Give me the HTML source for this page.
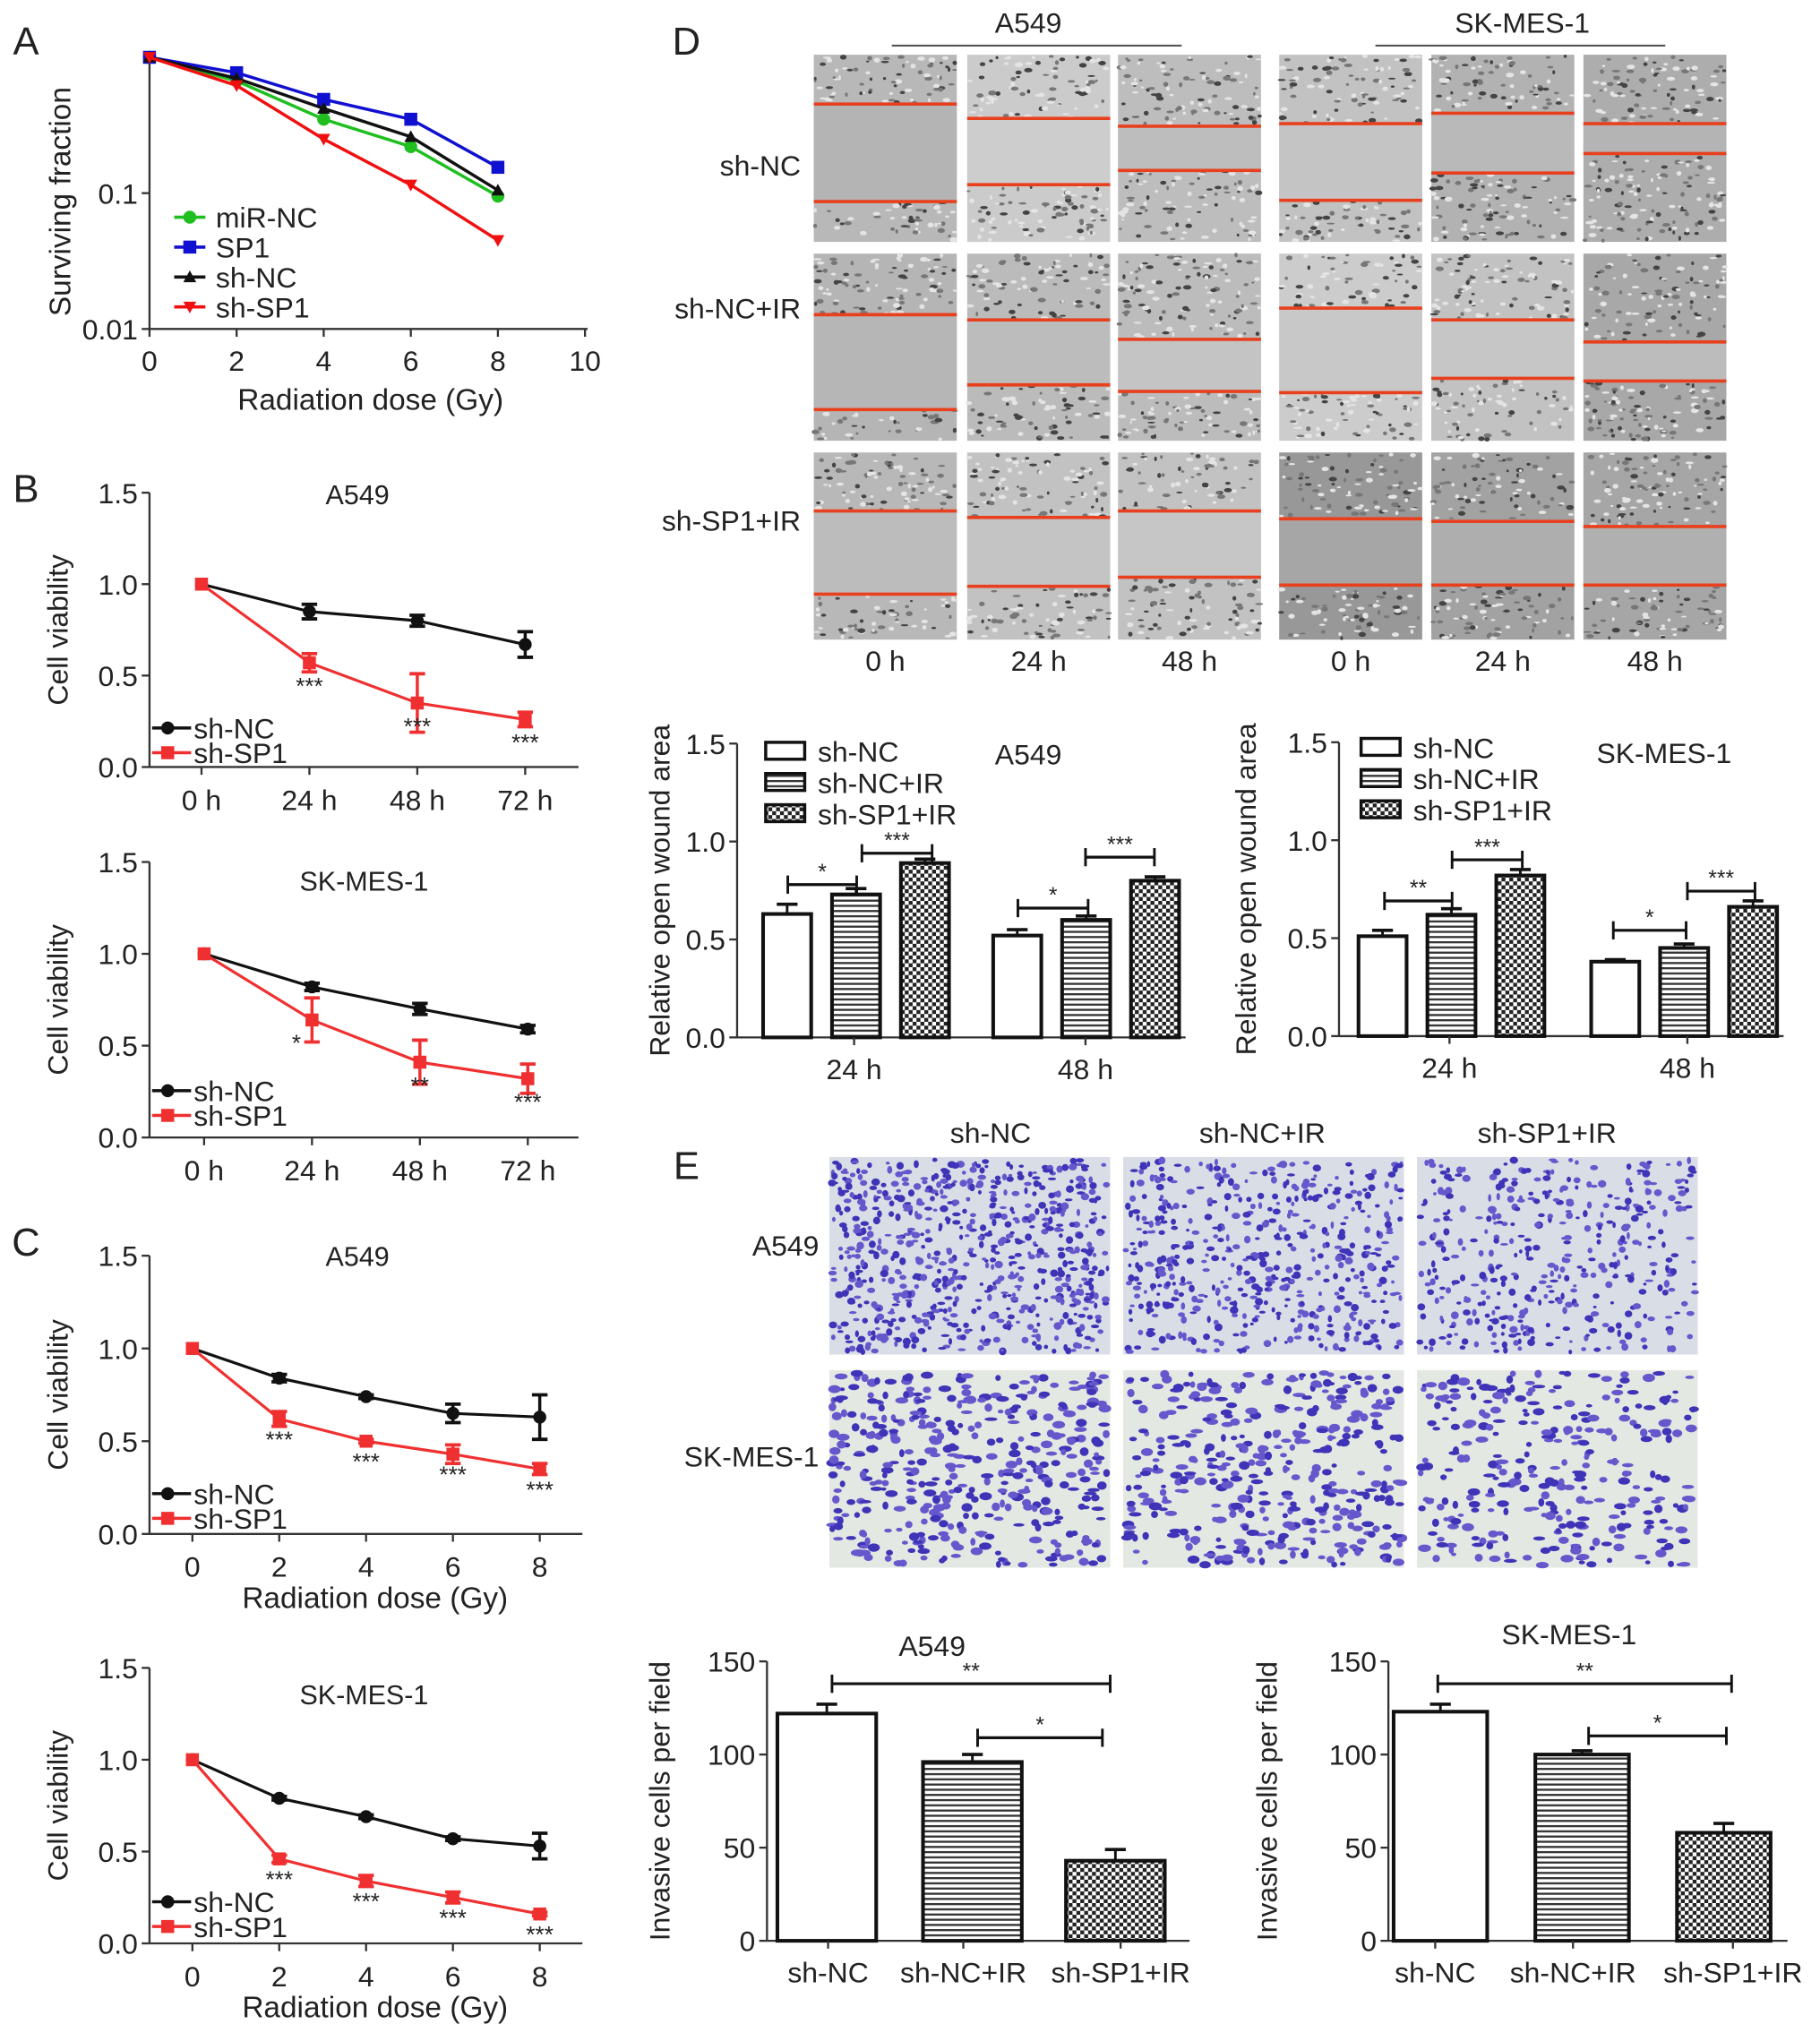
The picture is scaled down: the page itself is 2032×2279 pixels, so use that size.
<!DOCTYPE html>
<html><head><meta charset="utf-8"><style>
html,body{margin:0;padding:0;background:#fff}
svg{display:block}
text{font-family:"Liberation Sans",Arial,sans-serif;fill:#222}
</style></head>
<body>
<svg id="fig" width="2032" height="2279" viewBox="0 0 1400 1570" xmlns="http://www.w3.org/2000/svg">
<defs>
<pattern id="hstripe" width="6" height="4" patternUnits="userSpaceOnUse"><rect width="6" height="4" fill="#fff"/><rect width="6" height="1.6" fill="#333"/></pattern>
<pattern id="check" width="6" height="6" patternUnits="userSpaceOnUse"><rect width="6" height="6" fill="#fff"/><rect width="3" height="3" fill="#222"/><rect x="3" y="3" width="3" height="3" fill="#222"/></pattern>
</defs>
<g id="root"></g>
</svg>
<script>
// ---------- DATA ----------
const aDoses=[0,2,4,6,8];
const aMiRNC=[1,0.67,0.35,0.22,0.095];
const aSP1=[1,0.77,0.49,0.35,0.155];
const aShNC=[1,0.70,0.42,0.26,0.105];
const aShSP1=[1,0.62,0.25,0.115,0.045];
const bTimes=['0 h','24 h','48 h','72 h'];
const bA549NC=[1,0.85,0.80,0.67];const bA549NCerr=[0,0.04,0.03,0.07];
const bA549SP=[1,0.57,0.35,0.26];const bA549SPerr=[0,0.05,0.16,0.04];
const bA549Stars=['','***','***','***'];
const bSKNC=[1,0.82,0.70,0.59];const bSKNCerr=[0,0.02,0.03,0.02];
const bSKSP=[1,0.64,0.41,0.32];const bSKSPerr=[0,0.12,0.12,0.08];
const bSKStars=['','*','**','***'];
const cDoses=[0,2,4,6,8];
const cA549NC=[1,0.84,0.74,0.65,0.63];const cA549NCerr=[0,0.02,0.01,0.05,0.12];
const cA549SP=[1,0.62,0.50,0.43,0.35];const cA549SPerr=[0,0.04,0.01,0.05,0.03];
const cSKNC=[1,0.79,0.69,0.57,0.53];const cSKNCerr=[0,0.01,0.01,0.01,0.07];
const cSKSP=[1,0.46,0.34,0.25,0.16];const cSKSPerr=[0,0.02,0.03,0.03,0.01];
const cStars=['','***','***','***','***'];
const dGroups=['24 h','48 h'];
const dA549NC=[0.63,0.52],dA549IR=[0.73,0.60],dA549SP=[0.89,0.80];
const dA549Err=[[0.05,0.03],[0.03,0.02],[0.02,0.02]];
const dSKNC=[0.51,0.38],dSKIR=[0.62,0.45],dSKSP=[0.82,0.66];
const dSKErr=[[0.03,0.01],[0.03,0.02],[0.03,0.03]];
const eCats=['sh-NC','sh-NC+IR','sh-SP1+IR'];
const eA549=[122,96,43];const eA549Err=[5,4,6];
const eSK=[123,100,58];const eSKErr=[4,2,5];

// ---------- helpers ----------
const NS='http://www.w3.org/2000/svg';
const root=document.getElementById('root');
function el(tag,attrs,parent,txt){const e=document.createElementNS(NS,tag);for(const k in attrs)e.setAttribute(k,attrs[k]);if(txt!==undefined)e.textContent=txt;(parent||root).appendChild(e);return e;}
function grp(name,parent){const g=el('g',{},parent);


return g;}
function txt(g,x,y,s,size,anchor,name,extra){const t=el('text',Object.assign({x:x,y:y,'font-size':size,'text-anchor':anchor||'middle'},extra||{}),g,s);


return t;}
function ln(g,x1,y1,x2,y2,c,w){return el('line',{x1,y1,x2,y2,stroke:c||'#333','stroke-width':w||1.6},g);}
function marker(g,shape,x,y,c,s){s=s||5;
 if(shape==='circle')return el('circle',{cx:x,cy:y,r:s,fill:c},g);
 if(shape==='square')return el('rect',{x:x-s,y:y-s,width:2*s,height:2*s,fill:c},g);
 if(shape==='tri')return el('polygon',{points:`${x},${y-s} ${x-s},${y+s*0.8} ${x+s},${y+s*0.8}`,fill:c},g);
 if(shape==='itri')return el('polygon',{points:`${x},${y+s} ${x-s},${y-s*0.8} ${x+s},${y-s*0.8}`,fill:c},g);}

[['A',20,28],['B',20,372],['C',20,952],['D',528,28],['E',528,893]].forEach(p=>{txt(root,p[1],p[2]+14,p[0],30,'middle','panel-label-'+p[0].toLowerCase());});

// ---------- Panel A ----------
(function(){
 const g=grp('panel-a-survival-chart');
 const X=v=>115+v*33.5, Y=v=>44-Math.log10(v)*104.5;
 ln(g,115,40,115,253);ln(g,115,253,452,253);
 [0,2,4,6,8,10].forEach(v=>{ln(g,X(v),253,X(v),259);txt(g,X(v),285,String(v),22,'middle','x-tick-label');});
 [[0.1,'0.1'],[0.01,'0.01']].forEach(t=>{ln(g,109,Y(t[0]),115,Y(t[0]));txt(g,106,Y(t[0])+8,t[1],22,'end','y-tick-label');});
 txt(g,285,315,'Radiation dose (Gy)',23,'middle','x-axis-title');
 txt(g,54,155,'Surviving fraction',23,'middle','y-axis-title',{transform:'rotate(-90 54 155)'});
 const series=[[aMiRNC,'#1fbf1f','circle','miR-NC'],[aSP1,'#1010d0','square','SP1'],[aShNC,'#111','tri','sh-NC'],[aShSP1,'#f01010','itri','sh-SP1']];
 series.forEach((s,i)=>{const sg=grp('series-'+s[3].toLowerCase(),g);
  el('polyline',{points:aDoses.map((d,j)=>X(d)+','+Y(s[0][j])).join(' '),fill:'none',stroke:s[1],'stroke-width':2.4},sg);
  aDoses.forEach((d,j)=>{const m=marker(sg,s[2],X(d),Y(s[0][j]),s[1],5);
   
   });
  const ly=167+i*23;ln(sg,134,ly,158,ly,s[1],2.5);marker(sg,s[2],146,ly,s[1],5);
  txt(sg,166,ly+8,s[3],22,'start','legend-entry');});
})();

// ---------- line charts B, C ----------
function viabilityChart(name,o){
 const g=grp(name);
 const X=o.X,Y=v=>o.y0-v*o.k;
 ln(g,o.ax,Y(1.5),o.ax,o.y0);ln(g,o.ax,o.y0,o.axEnd,o.y0);
 [0,0.5,1.0,1.5].forEach(v=>{ln(g,o.ax-6,Y(v),o.ax,Y(v));txt(g,o.ax-9,Y(v)+8,v.toFixed(1),22,'end','y-tick-label');});
 o.cats.forEach((c,i)=>{ln(g,X(i),o.y0,X(i),o.y0+6);txt(g,X(i),o.y0+33,c,22,'middle','x-tick-label');});
 if(o.xtitle)txt(g,(o.ax+o.axEnd)/2+7,o.y0+57,o.xtitle,23,'middle','x-axis-title');
 txt(g,o.titleX,Y(1.5)+o.titleOff,o.title,21,'middle','chart-title');
 const yc=Y(0.75);txt(g,o.ax-63,yc,'Cell viability',22,'middle','y-axis-title',{transform:`rotate(-90 ${o.ax-63} ${yc})`});
 [[o.nc,o.ncErr,'#111','circle','sh-NC'],[o.sp,o.spErr,'#f03030','square','sh-SP1']].forEach((s,si)=>{
  const sg=grp('series-'+s[4].toLowerCase(),g);
  el('polyline',{points:s[0].map((v,i)=>X(i)+','+Y(v)).join(' '),fill:'none',stroke:s[2],'stroke-width':2.2},sg);
  s[0].forEach((v,i)=>{const e=s[1][i];if(e>0){ln(sg,X(i),Y(v-e),X(i),Y(v+e),s[2],2.4);ln(sg,X(i)-6,Y(v+e),X(i)+6,Y(v+e),s[2],2.6);ln(sg,X(i)-6,Y(v-e),X(i)+6,Y(v-e),s[2],2.6);}
   const m=marker(sg,s[3],X(i),Y(v),s[2],5);
   
   });
  const ly=o.legY+si*19;ln(sg,o.ax+2,ly,o.ax+32,ly,s[2],2.4);marker(sg,s[3],o.ax+14,ly,s[2],5);
  txt(sg,o.ax+34,ly+8,s[4],22,'start','legend-entry');});
 o.stars.forEach((s,i)=>{if(s){txt(g,X(i)-(s==='*'?12:0),Y(o.sp[i])+(s==='*'?24:o.starOff),s,18,'middle','significance-stars');}});
}
viabilityChart('panel-b-a549-chart',{X:i=>155+i*83,ax:115,axEnd:445,y0:590,k:140.7,cats:bTimes,title:'A549',titleX:275,titleOff:9,nc:bA549NC,ncErr:bA549NCerr,sp:bA549SP,spErr:bA549SPerr,stars:bA549Stars,legY:560,starOff:24});
viabilityChart('panel-b-skmes1-chart',{X:i=>157+i*83,ax:115,axEnd:445,y0:875,k:141.3,cats:bTimes,title:'SK-MES-1',titleX:280,titleOff:22,nc:bSKNC,ncErr:bSKNCerr,sp:bSKSP,spErr:bSKSPerr,stars:bSKStars,legY:839,starOff:24});
viabilityChart('panel-c-a549-chart',{X:i=>148+cDoses[i]*33.4,ax:115,axEnd:448,y0:1180,k:142.7,cats:cDoses.map(String),xtitle:'Radiation dose (Gy)',title:'A549',titleX:275,titleOff:8,nc:cA549NC,ncErr:cA549NCerr,sp:cA549SP,spErr:cA549SPerr,stars:cStars,legY:1149,starOff:22});
viabilityChart('panel-c-skmes1-chart',{X:i=>148+cDoses[i]*33.4,ax:115,axEnd:448,y0:1495,k:141.3,cats:cDoses.map(String),xtitle:'Radiation dose (Gy)',title:'SK-MES-1',titleX:280,titleOff:28,nc:cSKNC,ncErr:cSKNCerr,sp:cSKSP,spErr:cSKSPerr,stars:cStars,legY:1463,starOff:22});

let seed=7;function rnd(){seed=(seed*16807)%2147483647;return seed/2147483647;}

// ---------- Panel D images ----------
(function(){
 const g=grp('panel-d-wound-images');
 const cols=[626,744,860,984,1101,1218],w=110;
 const rows=[42,195,348],h=144;
 const lines=[[[80,155],[91,142],[97,131],[95,154],[87,133],[95,118]],
              [[242,315],[246,296],[261,301],[237,302],[246,291],[263,293]],
              [[393,457],[398,451],[393,444],[399,450],[401,450],[405,450]]];
 const bg=[['#b8b8b8','#cbcbcb','#bdbdbd','#c2c2c2','#b2b2b2','#adadad'],['#b5b5b5','#bbbbbb','#bcbcbc','#cccccc','#c2c2c2','#a8a8a8'],['#b8b8b8','#c2c2c2','#c2c2c2','#989898','#a2a2a2','#a6a6a6']];
 const wound=[['#b4b4b4','#cdcdcd','#bdbdbd','#c4c4c4','#b9b9b9','#b4b4b4'],['#b6b6b6','#bcbcbc','#c4c4c4','#c8c8c8','#c6c6c6','#bcbcbc'],['#bcbcbc','#c4c4c4','#c6c6c6','#a6a6a6','#aeaeae','#b0b0b0']];
 rows.forEach((y,ri)=>cols.forEach((x,ci)=>{
  const ig=grp('wound-image',g);
  el('rect',{x,y,width:w,height:h,fill:bg[ri][ci]},ig);
  const [l1,l2]=lines[ri][ci];
  el('rect',{x,y:l1,width:w,height:l2-l1,fill:wound[ri][ci]},ig);
  for(let k=0;k<260;k++){const cx=x+1+rnd()*(w-2),cy=y+1+rnd()*(h-2);if(cy>l1-1&&cy<l2+1)continue;
   const r=rnd();el('ellipse',{cx:cx.toFixed(1),cy:cy.toFixed(1),rx:(1+rnd()*2.2).toFixed(1),ry:(0.7+rnd()*1.2).toFixed(1),fill:r<0.25?'#444':r<0.6?'#777':'#e4e4e4'},ig);}
  ln(ig,x,l1,x+w,l1,'#e8401e',2.5);ln(ig,x,l2,x+w,l2,'#e8401e',2.5);
 }));
 ln(g,686,35,909,35,'#555',1.5);ln(g,1058,35,1281,35,'#555',1.5);
 txt(g,791,25,'A549',22,'middle','column-group-label');txt(g,1171,25,'SK-MES-1',22,'middle','column-group-label');
 [['sh-NC',127],['sh-NC+IR',237],['sh-SP1+IR',400]].forEach(r=>txt(g,616,r[1]+8,r[0],22,'end','row-label'));
 cols.forEach((x,i)=>txt(g,x+w/2,516,['0 h','24 h','48 h'][i%3],22,'middle','column-label'));
})();

// ---------- bar charts ----------
function barChart(name,o){
 const g=grp(name);
 const Y=v=>o.y0-v*o.k;
 ln(g,o.ax,Y(o.ticks[o.ticks.length-1]),o.ax,o.y0);ln(g,o.ax,o.y0,o.axEnd,o.y0);
 o.ticks.forEach(v=>{ln(g,o.ax-6,Y(v),o.ax,Y(v));txt(g,o.ax-9,Y(v)+8,o.fmt(v),22,'end','y-tick-label');});
 const yc=(o.y0+Y(o.ticks[o.ticks.length-1]))/2;
 txt(g,o.ytx,yc,o.ytitle,22,'middle','y-axis-title',{transform:`rotate(-90 ${o.ytx} ${yc})`});
 txt(g,o.titleX,o.titleY,o.title,22,'middle','chart-title');
 o.bars.forEach(b=>{const bg=grp('bar',g);
  ln(bg,b.x+b.w/2,Y(b.v),b.x+b.w/2,Y(b.v+b.e),'#111',2);ln(bg,b.x+b.w/2-8,Y(b.v+b.e),b.x+b.w/2+8,Y(b.v+b.e),'#111',2.5);
  el('rect',{x:b.x,y:Y(b.v),width:b.w,height:o.y0-Y(b.v),fill:b.fill,stroke:'#111','stroke-width':2.8},bg);});
 o.xlabels.forEach(l=>{ln(g,l[0],o.y0,l[0],o.y0+6);txt(g,l[0],o.y0+32,l[1],22,'middle','x-tick-label');});
 (o.brackets||[]).forEach(br=>{const bg=grp('significance-bracket',g);const y=Y(br[2]);
  ln(bg,br[0],y,br[1],y,'#111',2.2);ln(bg,br[0],y-7,br[0],y+7,'#111',2);ln(bg,br[1],y-7,br[1],y+7,'#111',2);
  txt(bg,(br[0]+br[1])/2,y-4,br[3],17,'middle','significance-stars');});
 (o.legend||[]).forEach((l,i)=>{const ly=o.legY+i*24;const lg=grp('legend-entry',g);
  el('rect',{x:o.legX,y:ly-7,width:30,height:13,fill:l[1],stroke:'#111','stroke-width':2.4},lg);
  txt(lg,o.legX+40,ly+8,l[0],22,'start','legend-label');});
}
const fills=['#fff','url(#hstripe)','url(#check)'];
function dBars(x0,nc,ir,sp,err){const out=[];const vals=[nc,ir,sp];
 dGroups.forEach((gname,gi)=>{for(let s=0;s<3;s++)out.push({x:x0[gi]+s*53,w:37,v:vals[s][gi],e:err[s][gi],fill:fills[s]});});return out;}
barChart('panel-d-a549-bar-chart',{ax:567,axEnd:912,y0:798,k:150.7,ticks:[0,0.5,1.0,1.5],fmt:v=>v.toFixed(1),ytx:515,ytitle:'Relative open wound area',title:'A549',titleX:791,titleY:588,
 bars:dBars([587,764],dA549NC,dA549IR,dA549SP,dA549Err),xlabels:[[657,'24 h'],[835,'48 h']],
 brackets:[[606,659,dA549IR[0]+0.05,'*'],[663,717,dA549SP[0]+0.05,'***'],[783,837,dA549IR[1]+0.06,'*'],[835,888,dA549SP[1]+0.12,'***']],
 legend:[['sh-NC','#fff'],['sh-NC+IR','url(#hstripe)'],['sh-SP1+IR','url(#check)']],legX:589,legY:578});
barChart('panel-d-skmes1-bar-chart',{ax:1030,axEnd:1372,y0:797,k:150.7,ticks:[0,0.5,1.0,1.5],fmt:v=>v.toFixed(1),ytx:966,ytitle:'Relative open wound area',title:'SK-MES-1',titleX:1280,titleY:587,
 bars:dBars([1045,1224],dSKNC,dSKIR,dSKSP,dSKErr),xlabels:[[1115,'24 h'],[1298,'48 h']],
 brackets:[[1065,1117,dSKIR[0]+0.07,'**'],[1117,1171,dSKSP[0]+0.08,'***'],[1241,1297,dSKIR[1]+0.09,'*'],[1298,1350,dSKSP[1]+0.08,'***']],
 legend:[['sh-NC','#fff'],['sh-NC+IR','url(#hstripe)'],['sh-SP1+IR','url(#check)']],legX:1047,legY:575});

// ---------- Panel E images ----------
(function(){
 const g=grp('panel-e-invasion-images');
 const cols=[638,864,1090],w=216,rows=[890,1054],h=152;
 const dens=[[700,520,420],[420,380,300]];
 rows.forEach((y,ri)=>cols.forEach((x,ci)=>{const ig=grp('invasion-image',g);
  el('rect',{x,y,width:w,height:h,fill:ri===0?'#d9dde6':'#e4e8e2'},ig);
  for(let k=0;k<dens[ri][ci];k++){const big=ri===1;el('ellipse',{cx:(x+2+rnd()*(w-4)).toFixed(1),cy:(y+2+rnd()*(h-4)).toFixed(1),rx:((big?2:1.3)+rnd()*(big?3:2)).toFixed(1),ry:((big?1.3:1)+rnd()*2).toFixed(1),fill:rnd()<0.5?'#3f34b8':'#6658cc'},ig);}
 }));
 ['sh-NC','sh-NC+IR','sh-SP1+IR'].forEach((c,i)=>txt(g,[762,971,1190][i],879,c,22,'middle','column-label'));
 txt(g,630,966,'A549',22,'end','row-label');txt(g,630,1128,'SK-MES-1',22,'end','row-label');
})();
barChart('panel-e-a549-bar-chart',{ax:590,axEnd:915,y0:1493,k:1.433,ticks:[0,50,100,150],fmt:v=>String(v),ytx:515,ytitle:'Invasive cells per field',title:'A549',titleX:717,titleY:1274,
 bars:eCats.map((c,i)=>({x:[598,710,820][i],w:76,v:eA549[i],e:eA549Err[i],fill:fills[i]})),xlabels:eCats.map((c,i)=>[[637,741,862][i],c]),
 brackets:[[640,854,138,'**'],[752,848,109,'*']]});
barChart('panel-e-skmes1-bar-chart',{ax:1068,axEnd:1375,y0:1493,k:1.433,ticks:[0,50,100,150],fmt:v=>String(v),ytx:982,ytitle:'Invasive cells per field',title:'SK-MES-1',titleX:1207,titleY:1265,
 bars:eCats.map((c,i)=>({x:[1072,1181,1290][i],w:72,v:eSK[i],e:eSKErr[i],fill:fills[i]})),xlabels:eCats.map((c,i)=>[[1104,1210,1333][i],c]),
 brackets:[[1106,1332,138,'**'],[1222,1328,110,'*']]});
</script>
</body></html>
